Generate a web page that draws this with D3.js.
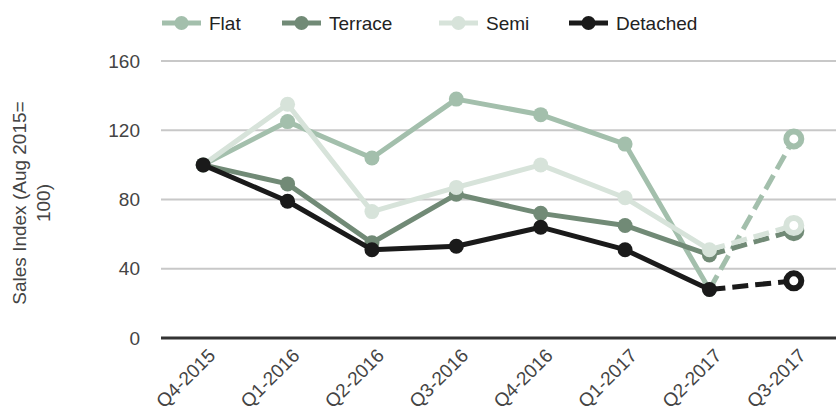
<!DOCTYPE html>
<html>
<head>
<meta charset="utf-8">
<script src="https://cdn.jsdelivr.net/npm/d3@7"></script>
<style>
  body { margin: 0; background: #fff; }
  svg { display: block; font-family: "Liberation Sans", Arial, sans-serif; }
</style>
</head>
<body>
<svg id="chart" width="836" height="419"></svg>
<script>
const quarters = ["Q4-2015", "Q1-2016", "Q2-2016", "Q3-2016", "Q4-2016", "Q1-2017", "Q2-2017", "Q3-2017"];
const flat     = [100, 125, 104, 138, 129, 112, 28, 115];
const terrace  = [100, 89, 55, 83, 72, 65, 48, 62];
const semi     = [100, 135, 73, 87, 100, 81, 51, 65];
const detached = [100, 79, 51, 53, 64, 51, 28, 33];
const yTicks = [0, 40, 80, 120, 160];

const series = [
  { name: "Flat", values: flat, color: "#a3bfac" },
  { name: "Terrace", values: terrace, color: "#718a76" },
  { name: "Semi", values: semi, color: "#d7e3da" },
  { name: "Detached", values: detached, color: "#1a1a1a" }
];

const fontSize = 19;
const svg = d3.select("#chart");
const margin = { top: 61, right: 0, bottom: 81, left: 161 };
const width = 836, height = 419;
const innerW = width - margin.left - margin.right;
const innerH = height - margin.top - margin.bottom;

const g = svg.append("g").attr("transform", `translate(${margin.left},${margin.top})`);

const x = d3.scalePoint().domain(quarters).range([0, innerW]).padding(0.5);
const y = d3.scaleLinear().domain([0, 160]).range([innerH, 0]);

// gridlines
g.selectAll(".grid").data(yTicks.filter(d => d > 0)).enter().append("line")
  .attr("x1", 0).attr("x2", innerW)
  .attr("y1", d => y(d)).attr("y2", d => y(d))
  .attr("stroke", "#c8c8c8").attr("stroke-width", 2);

// y axis labels
const yAxis = g.append("g").call(d3.axisLeft(y).tickValues(yTicks).tickSize(0).tickPadding(21));
yAxis.select(".domain").remove();
yAxis.selectAll("text").attr("font-size", fontSize).attr("fill", "#444").attr("font-family", "Liberation Sans, Arial, sans-serif");

// x axis
const xAxis = g.append("g").attr("transform", `translate(0,${innerH})`)
  .call(d3.axisBottom(x).tickSize(0));
xAxis.select(".domain").remove();
xAxis.selectAll("text")
  .attr("font-size", fontSize).attr("fill", "#444").attr("font-family", "Liberation Sans, Arial, sans-serif")
  .attr("text-anchor", "end")
  .attr("transform", "translate(8,14) rotate(-45)")
  .attr("dy", "0.35em").attr("dx", 0).attr("y", 0);

g.append("line").attr("x1", 0).attr("x2", innerW).attr("y1", innerH).attr("y2", innerH)
  .attr("stroke", "#333").attr("stroke-width", 3);

// y title
svg.append("text")
  .attr("transform", "translate(25.6,203) rotate(-90)")
  .attr("text-anchor", "middle").attr("font-size", fontSize).attr("fill", "#444")
  .selectAll("tspan").data(["Sales Index (Aug 2015=", "100)"]).enter().append("tspan")
  .attr("x", 0).attr("dy", (d, i) => i === 0 ? 0 : 24).text(d => d);

const last = quarters.length - 1;
const segLine = d3.line().x(d => x(quarters[d.i])).y(d => y(d.v));

series.forEach(s => {
  const pts = s.values.map((v, i) => ({ v, i }));
  g.append("path")
    .datum(pts.slice(0, last))
    .attr("fill", "none").attr("stroke", s.color).attr("stroke-width", 5).attr("stroke-linejoin", "round")
    .attr("d", segLine);
  g.append("path")
    .datum(pts.slice(last - 1))
    .attr("fill", "none").attr("stroke", s.color).attr("stroke-width", 5).attr("stroke-dasharray", "16,7")
    .attr("d", segLine);
  g.selectAll(null).data(pts.slice(0, last)).enter().append("circle")
    .attr("cx", d => x(quarters[d.i])).attr("cy", d => y(d.v)).attr("r", 7.5).attr("fill", s.color);
  g.append("circle")
    .attr("cx", x(quarters[last])).attr("cy", y(s.values[last]))
    .attr("r", 7.5).attr("fill", "#fff").attr("stroke", s.color).attr("stroke-width", 6);
});

// legend
const legendX = [162, 282, 439, 569];
const lg = svg.append("g");
series.forEach((s, i) => {
  const item = lg.append("g").attr("transform", `translate(${legendX[i]},23)`);
  item.append("line").attr("x1", 0).attr("x2", 39).attr("stroke", s.color).attr("stroke-width", 5);
  item.append("circle").attr("cx", 19.5).attr("r", 7).attr("fill", s.color);
  item.append("text").attr("x", 47).attr("dy", "0.35em").attr("font-size", fontSize).attr("fill", "#222").text(s.name);
});
</script>
</body>
</html>
